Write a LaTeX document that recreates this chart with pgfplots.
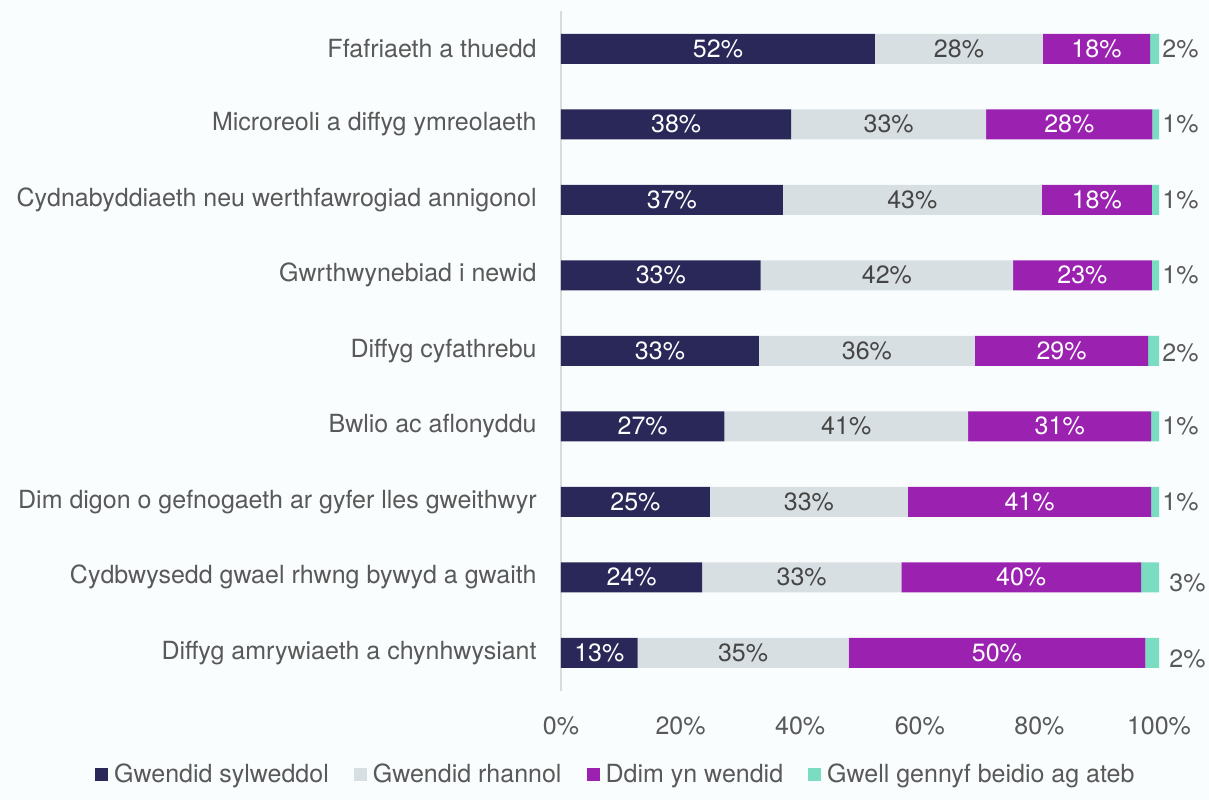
\documentclass[border=0pt]{standalone}
\usepackage{fontspec}
\setmainfont{TeX Gyre Heros}
\usepackage{pgfplots}
\usepackage{pgfplotstable}
\pgfplotsset{compat=1.18}

\definecolor{cNavy}{HTML}{2A2859}
\definecolor{cLight}{HTML}{D8DFE3}
\definecolor{cPurple}{HTML}{9B22B0}
\definecolor{cTeal}{HTML}{7ADCC0}
\definecolor{cText}{HTML}{595959}
\definecolor{cDark}{HTML}{454545}
\definecolor{cBg}{RGB}{249,253,253}

\pgfplotstableread{
y a b c d la lb lc ld dx dy
0 52.5 28.1 17.9 1.5 52 28 18 2 0 0
1 38.5 32.6 27.8 1.1 38 33 28 1 0 0
2 37.1 43.3 18.4 1.2 37 43 18 1 0 0
3 33.4 42.2 23.2 1.2 33 42 23 1 0 0
4 33.1 36.1 29.0 1.8 33 36 29 2 0 -1
5 27.3 40.8 30.6 1.3 27 41 31 1 0 0
6 24.9 33.1 40.7 1.3 25 33 41 1 0 0
7 23.6 33.3 40.1 3.0 24 33 40 3 3.5 -3
8 12.8 35.3 49.6 2.3 13 35 50 2 3.5 -3
}\datatable

\newcommand{\fs}{\fontsize{12.5}{14.5}\selectfont}

\pgfplotsset{
  mylegend/.style={legend image code/.code={\fill[##1] (0pt,-3.2pt) rectangle (6.5pt,3.3pt);}},
  inlabel/.style={
    point meta=explicit symbolic,
    nodes near coords={\pgfplotspointmeta\%},
    nodes near coords style={anchor=center, inner sep=0pt, font=\fs, text=#1},
  },
}

\begin{document}
\begin{tikzpicture}
\fill[cBg] (-280.5pt,-54.6pt) rectangle (324pt,345.25pt);
\useasboundingbox (-280.5pt,-54.6pt) rectangle (324pt,345.25pt);
\begin{axis}[
  at={(0pt,0pt)}, anchor=south west,
  scale only axis,
  x=2.99pt, y=37.75pt,
  xbar stacked, bar width=15pt,
  xmin=0, xmax=100, ymin=-0.5, ymax=8.5, y dir=reverse,
  enlargelimits=false, clip=false,
  axis lines*=left,
  x axis line style={draw=none},
  y axis line style={draw=black!14, line width=1pt},
  major tick length=0pt,
  tick style={draw=none},
  xtick={0,20,40,60,80,100},
  xticklabels={0\%,20\%,40\%,60\%,80\%,100\%},
  xticklabel style={font=\fs, text=cText, anchor=base, inner sep=0pt, yshift=-22pt},
  ytick={0,...,8},
  yticklabels={
    Ffafriaeth a thuedd,
    Microreoli a diffyg ymreolaeth,
    Cydnabyddiaeth neu werthfawrogiad annigonol,
    Gwrthwynebiad i newid,
    Diffyg cyfathrebu,
    Bwlio ac aflonyddu,
    Dim digon o gefnogaeth ar gyfer lles gweithwyr,
    Cydbwysedd gwael rhwng bywyd a gwaith,
    Diffyg amrywiaeth a chynhwysiant},
  yticklabel style={font=\fs, text=cText, anchor=east, inner sep=0pt, xshift=-12pt},
  legend columns=4,
  legend style={at={(0.0925,-0.1235)}, anchor=center, draw=none, fill=none,
    font=\fs, text=cText,
    nodes={inner sep=1.5pt},
    /tikz/every odd column/.append style={column sep=1.5pt},
    /tikz/every even column/.append style={column sep=11pt}},
]
\addplot[fill=cNavy, draw=none, mylegend, inlabel=white]
  table[x=a, y=y, meta=la] {\datatable};
\addlegendentry{Gwendid sylweddol}
\addplot[fill=cLight, draw=none, mylegend, inlabel=cDark]
  table[x=b, y=y, meta=lb] {\datatable};
\addlegendentry{Gwendid rhannol}
\addplot[fill=cPurple, draw=none, mylegend, inlabel=white]
  table[x=c, y=y, meta=lc] {\datatable};
\addlegendentry{Ddim yn wendid}
\addplot[fill=cTeal, draw=none, mylegend,
  point meta=explicit symbolic,
  visualization depends on={\thisrow{d} \as \segw},
  visualization depends on={\thisrow{dx} \as \mydx},
  visualization depends on={\thisrow{dy} \as \mydy},
  nodes near coords={\pgfplotspointmeta\%},
  nodes near coords style={anchor=west, inner sep=0pt, font=\fs, text=cText,
    xshift={\segw*1.495pt+1.5pt+\mydx*1pt}, yshift={\mydy*1pt}}]
  table[x=d, y=y, meta=ld] {\datatable};
\addlegendentry{Gwell gennyf beidio ag ateb}
\end{axis}
\end{tikzpicture}
\end{document}
